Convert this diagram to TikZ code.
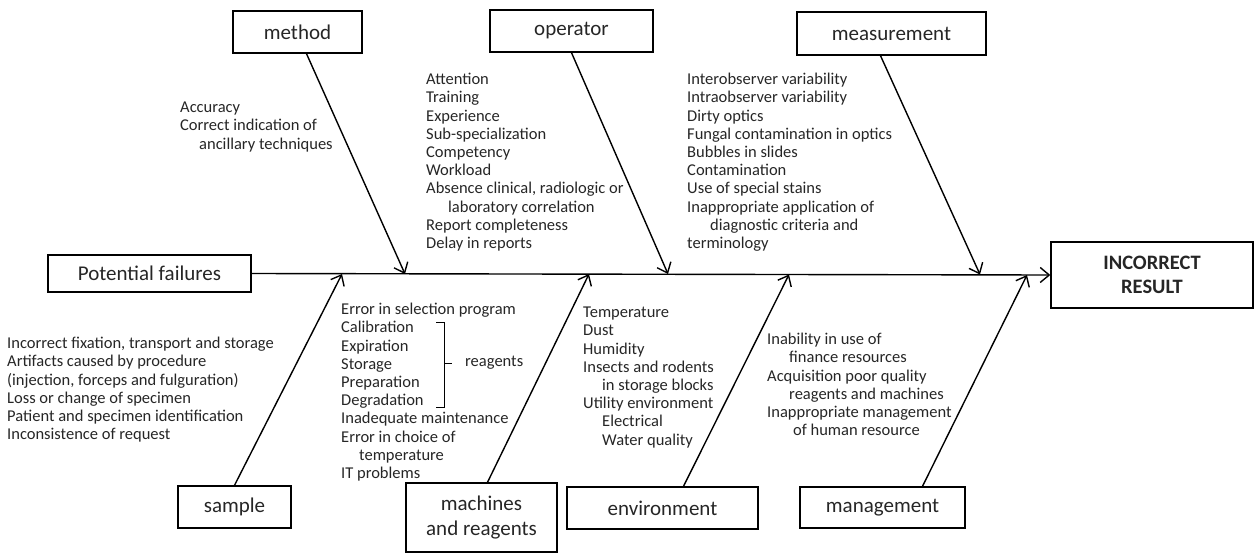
\documentclass[tikz,border=0pt]{standalone}
\usepackage{fontspec}
\setmainfont{Carlito}
\usetikzlibrary{arrows.meta}
\definecolor{txtgray}{RGB}{38,38,38}
\tikzset{
	cause/.style={draw,line width=1.4pt,inner sep=0pt,align=center,font=\fontsize{21}{25}\selectfont,text=txtgray},
	items/.style={anchor=north west,inner sep=0pt,align=left,font=\fontsize{16.5}{18.2}\selectfont,text=txtgray},
	bone/.style={line width=1.4pt,-{Straight Barb[length=9pt,width=15pt]}}
}

\begin{document}
\begin{tikzpicture}[x=1pt,y=-1pt]
			\useasboundingbox (0,0) rectangle (1254,552);

			\node[cause,minimum width=203pt,minimum height=37pt] (failures) at (149.5,273.5) {Potential failures};
			\node[cause,minimum width=202pt,minimum height=66pt,font=\bfseries\fontsize{20.5}{24}\selectfont] (result) at (1152,275) {INCORRECT\\RESULT};

			\node[cause,minimum width=129pt,minimum height=42pt] (method) at (297.5,32) {method};
			\node[cause,minimum width=163pt,minimum height=42pt] (operator) at (571.5,31) {operator};
			\node[cause,minimum width=189pt,minimum height=43pt] (measurement) at (891.5,33.5) {measurement};
			\node[cause,minimum width=113pt,minimum height=42pt] (sample) at (234.5,507) {sample};
			\node[cause,minimum width=151pt,minimum height=69pt] (machines) at (481.5,517.5) {machines\\and reagents};
			\node[cause,minimum width=191pt,minimum height=42pt] (environment) at (662.5,508) {environment};
			\node[cause,minimum width=165pt,minimum height=41pt] (management) at (882.5,507.5) {management};

			\draw[bone] (failures.east) -- (result.west);

			\coordinate (tmethod) at (405,274);
			\coordinate (toperator) at (668,274);
			\coordinate (tmeasurement) at (980,274.5);
			\coordinate (tsample) at (342,274);
			\coordinate (tmachines) at (589,274);
			\coordinate (tenvironment) at (789,274.5);
			\coordinate (tmanagement) at (1027,275);

			\draw[bone] ([xshift=9pt]method.south) -- (tmethod);
			\draw[bone] (operator.south) -- (toperator);
			\draw[bone] ([xshift=-11pt]measurement.south) -- (tmeasurement);
			\draw[bone] (sample.north) -- (tsample);
			\draw[bone] ([xshift=6pt]machines.north) -- (tmachines);
			\draw[bone] ([xshift=21pt]environment.north) -- (tenvironment);
			\draw[bone] ([xshift=40pt]management.north) -- (tmanagement);

			\node[items] (methoditems) at (180,102) {Accuracy\\Correct indication of\\\hspace*{19pt}ancillary techniques};
			\node[items] (operatoritems) at (426,73) {Attention\\Training\\Experience\\Sub-specialization\\Competency\\Workload\\Absence clinical, radiologic or\\\hspace*{22pt}laboratory correlation\\Report completeness\\Delay in reports};
			\node[items] (measurementitems) at (687,73) {Interobserver variability\\Intraobserver variability\\Dirty optics\\Fungal contamination in optics\\Bubbles in slides\\Contamination\\Use of special stains\\Inappropriate application of\\\hspace*{23pt}diagnostic criteria and\\terminology};
			\node[items] (sampleitems) at (7,337) {Incorrect fixation, transport and storage\\Artifacts caused by procedure\\(injection, forceps and fulguration)\\Loss or change of specimen\\Patient and specimen identification\\Inconsistence of request};
			\node[items] (machinesitems) at (341,303) {Error in selection program\\Calibration\\Expiration\\Storage\\Preparation\\Degradation\\Inadequate maintenance\\Error in choice of\\\hspace*{18pt}temperature\\IT problems};
			\node[items] (environmentitems) at (583,307) {Temperature\\Dust\\Humidity\\Insects and rodents\\\hspace*{19pt}in storage blocks\\Utility environment\\\hspace*{19pt}Electrical\\\hspace*{19pt}Water quality};
			\node[items] (managementitems) at (767,333) {Inability in use of\\\hspace*{22pt}finance resources\\Acquisition poor quality\\\hspace*{22pt}reagents and machines\\Inappropriate management\\\hspace*{26pt}of human resource};

			\node[items,anchor=west] (reagents) at (465,363) {reagents};
			\draw[line width=0.8pt] (436,322) -| (444,407) -- (436,407) (444,363) -- (452,363);
		\end{tikzpicture}
\end{document}
